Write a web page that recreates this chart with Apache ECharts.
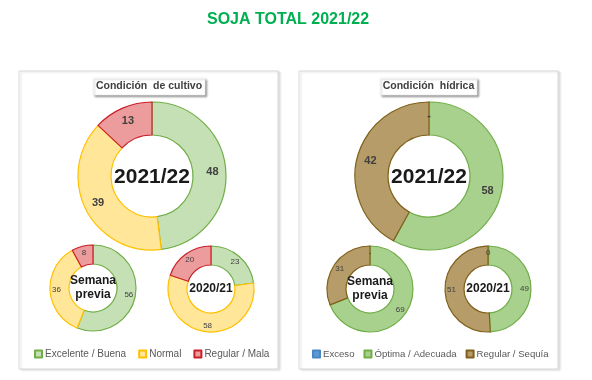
<!DOCTYPE html>
<html>
<head>
<meta charset="utf-8">
<script src="https://cdn.jsdelivr.net/npm/echarts@6/dist/echarts.min.js"></script>
<style>
html,body{margin:0;padding:0;background:#fff;}
#main{width:592px;height:380px;}
</style>
</head>
<body>
<div id="main"></div>
<script>
// ---- Data ----
const cropCategories = ['Excelente / Buena', 'Normal', 'Regular / Mala'];
const crop2122 = [48, 39, 13];
const cropPrevWeek = [56, 36, 8];
const crop2021 = [23, 58, 20];

const waterCategories = ['Exceso', 'Óptima / Adecuada', 'Regular / Sequía'];
const water2122 = [0, 58, 42];
const waterPrevWeek = [0, 69, 31];
const water2021 = [0.3, 49, 51];

const centerLabels = ['2021/22', 'Semana\nprevia', '2020/21'];

// ---- Styles ----
const cropFill = ['#c5e0b4', '#ffe699', '#ec9c9c'];
const cropBorder = ['#70ad47', '#ffc000', '#c8202a'];
const waterFill = ['#5b9bd5', '#a9d18e', '#b59c68'];
const waterBorder = ['#4a86c0', '#70ad47', '#80601a'];

const FONT = "'Liberation Sans', Arial, sans-serif";

function makeData(cats, vals, fills, borders) {
  return cats.map((c, i) => ({
    name: c, value: vals[i],
    itemStyle: { color: fills[i], borderColor: borders[i], borderWidth: 1.2 }
  }));
}
function fmt(p) {
  if (p.value === 0) return '-';
  return String(Math.round(p.value));
}
function pie(id, center, radius, cats, vals, fills, borders, big) {
  return {
    type: 'pie', id: id, center: center, radius: radius,
    startAngle: 90, clockwise: true, avoidLabelOverlap: false,
    animation: false, silent: true,
    label: {
      show: true, position: 'inside', formatter: fmt,
      fontFamily: FONT, fontSize: big ? 11 : 8, fontWeight: big ? 'bold' : 'normal',
      color: '#404040'
    },
    labelLine: { show: false },
    emphasis: { disabled: true },
    data: makeData(cats, vals, fills, borders)
  };
}

const panels = [
  { x: 19, y: 71, w: 259, h: 298 },
  { x: 299, y: 71, w: 259, h: 298 }
];
const titleBoxes = [
  { x: 93, y: 78, w: 112, h: 17, text: 'Condición  de cultivo' },
  { x: 380, y: 78, w: 97, h: 17, text: 'Condición  hídrica' }
];
const centers = [
  [152, 176], [93, 288], [211, 289],
  [429, 176], [370, 289], [488, 289]
];
const bigR = [41, 74];
const smallR = [24, 43];

const series = [
  pie('c1', centers[0], bigR, cropCategories, crop2122, cropFill, cropBorder, true),
  pie('c2', centers[1], smallR, cropCategories, cropPrevWeek, cropFill, cropBorder, false),
  pie('c3', centers[2], smallR, cropCategories, crop2021, cropFill, cropBorder, false),
  pie('w1', centers[3], bigR, waterCategories, water2122, waterFill, waterBorder, true),
  pie('w2', centers[4], smallR, waterCategories, waterPrevWeek, waterFill, waterBorder, false),
  pie('w3', centers[5], smallR, waterCategories, water2021, waterFill, waterBorder, false)
];

const graphic = [];
panels.forEach(p => {
  graphic.push({
    type: 'rect', z: -10, silent: true,
    shape: { x: p.x, y: p.y, width: p.w, height: p.h },
    style: { fill: '#fff', stroke: '#d9d9d9', lineWidth: 1,
      shadowColor: 'rgba(0,0,0,0.12)', shadowBlur: 2, shadowOffsetX: 2, shadowOffsetY: 1 }
  });
});
titleBoxes.forEach(t => {
  graphic.push({
    type: 'rect', z: 10, silent: true,
    shape: { x: t.x, y: t.y, width: t.w, height: t.h },
    style: { fill: '#fff', stroke: '#e6e6e6', lineWidth: 0.5,
      shadowColor: 'rgba(0,0,0,0.35)', shadowBlur: 2, shadowOffsetX: 1.5, shadowOffsetY: 1.5 }
  });
  graphic.push({
    type: 'text', z: 11, silent: true,
    x: t.x + t.w / 2, y: t.y + t.h / 2,
    style: { text: t.text, fontFamily: FONT, fontSize: 10.5, fontWeight: 'bold',
      fill: '#404040', align: 'center', verticalAlign: 'middle' }
  });
});
const centerIdx = [0, 1, 2, 0, 1, 2];
centers.forEach((c, i) => {
  const k = centerIdx[i];
  graphic.push({
    type: 'text', z: 12, silent: true, x: c[0], y: c[1] + (k === 0 ? 1 : 0),
    style: {
      text: centerLabels[k], fontFamily: FONT, fontWeight: 'bold',
      fontSize: k === 0 ? 21 : 12, lineHeight: k === 1 ? 14 : undefined,
      fill: '#1a1a1a', align: 'center', verticalAlign: 'middle'
    }
  });
});

const legendCommon = {
  orient: 'horizontal', top: 349, itemWidth: 7, itemHeight: 7,
  padding: 0, icon: 'rect', selectedMode: false
};

const chart = echarts.init(document.getElementById('main'), null, { renderer: 'canvas' });
chart.setOption({
  backgroundColor: '#ffffff',
  animation: false,
  title: {
    text: 'SOJA TOTAL 2021/22', left: 202, top: 7,
    textStyle: { fontFamily: FONT, fontSize: 16, fontWeight: 'bold', color: '#00b050' }
  },
  legend: [
    Object.assign({}, legendCommon, { left: 34, itemGap: 12, data: cropCategories,
      textStyle: { fontFamily: FONT, fontSize: 10, color: '#595959', padding: [0, 0, 0, -2] } }),
    Object.assign({}, legendCommon, { left: 312, itemGap: 9, data: waterCategories,
      textStyle: { fontFamily: FONT, fontSize: 9.6, color: '#595959', padding: [0, 0, 0, -2] } })
  ],
  graphic: graphic,
  series: series
});
</script>
</body>
</html>
